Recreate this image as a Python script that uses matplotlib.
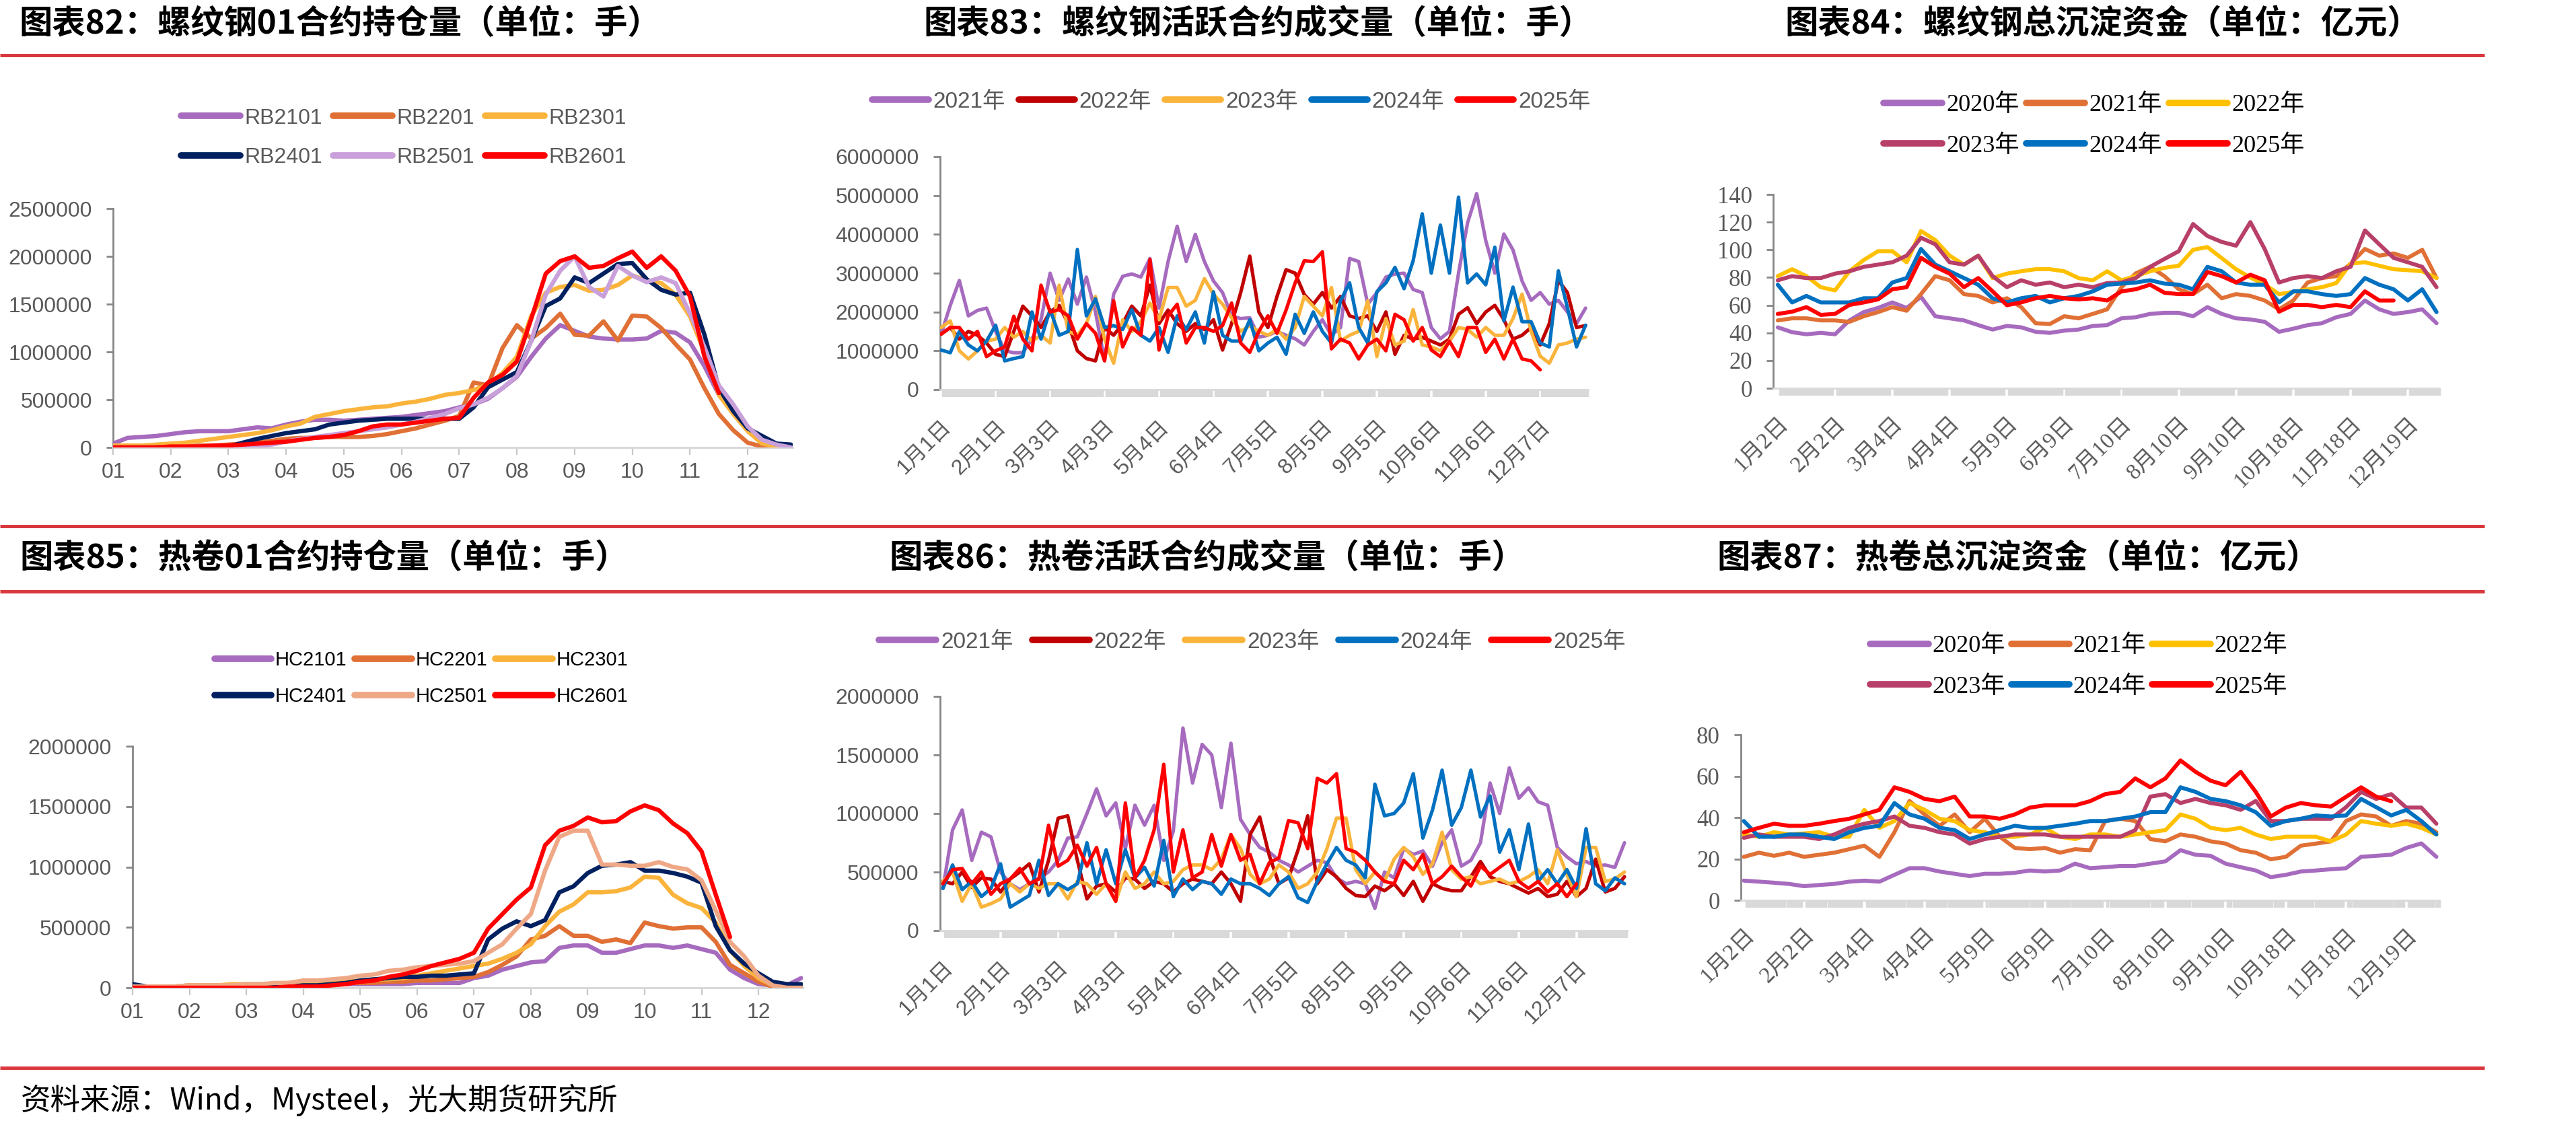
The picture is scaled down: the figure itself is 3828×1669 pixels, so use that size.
import numpy as np
import matplotlib
matplotlib.use("Agg")
import matplotlib.pyplot as plt
from matplotlib.lines import Line2D

# ---------------- data ----------------
# RB / HC 01-contract open interest, unit: 10k lots, one point per quarter month
OI_MONTHS = ["01", "02", "03", "04", "05", "06", "07", "08", "09", "10", "11", "12"]
RB_OI_NAMES = ["RB2101", "RB2201", "RB2301", "RB2401", "RB2501", "RB2601"]
RB2101 = [4, 10, 11, 12, 14, 16, 17, 17, 17, 19, 21, 20, 24, 27, 29, 29, 28, 29, 30, 31, 32, 34, 36, 38,
          42, 45, 51, 62, 74, 95, 114, 128, 122, 116, 114, 113, 113, 114, 122, 120, 110, 85, 55, 38, 20, 7, 2, 1]
RB2201 = [0, 0, 0, 1, 1, 1, 2, 2, 3, 4, 5, 7, 9, 10, 10, 11, 11, 11, 12, 14, 17, 20, 24, 28,
          33, 68, 65, 104, 128, 114, 125, 140, 118, 117, 132, 112, 138, 137, 125, 108, 92, 62, 35, 18, 5, 1, 0, 0]
RB2301 = [2, 2, 2, 3, 4, 5, 7, 9, 11, 13, 15, 18, 22, 25, 32, 35, 38, 40, 42, 43, 46, 48, 51, 55,
          57, 60, 66, 78, 95, 138, 162, 168, 170, 164, 165, 170, 180, 175, 172, 160, 137, 100, 55, 35, 17, 4, 1, 0]
RB2401 = [0, 0, 0, 0, 0, 0, 0, 0, 1, 5, 9, 12, 15, 17, 19, 24, 26, 28, 29, 30, 30, 30, 30, 30,
          30, 42, 63, 71, 79, 112, 148, 156, 178, 172, 182, 192, 193, 176, 165, 160, 162, 118, 62, 38, 20, 12, 4, 3]
RB2501 = [0, 0, 0, 0, 0, 0, 0, 0, 0, 0, 1, 3, 6, 9, 11, 13, 15, 17, 19, 21, 24, 27, 31, 35,
          41, 45, 52, 62, 75, 112, 160, 185, 200, 168, 158, 190, 180, 173, 178, 172, 140, 105, 65, 45, 22, 8, 3, 0]
RB2601 = [0, 0, 0, 0, 1, 1, 1, 2, 2, 3, 4, 5, 6, 8, 10, 11, 13, 17, 22, 24, 24, 26, 28, 30,
          31, 52, 68, 76, 90, 135, 182, 195, 200, 188, 190, 198, 205, 188, 200, 185, 158, 95, 57]

HC_OI_NAMES = ["HC2101", "HC2201", "HC2301", "HC2401", "HC2501", "HC2601"]
HC2101 = [1, 1, 1, 1, 2, 2, 2, 2, 2, 2, 2, 2, 3, 3, 3, 3, 3, 3, 3, 3, 4, 4, 4, 4,
          8, 10, 15, 18, 21, 22, 33, 35, 35, 29, 29, 32, 35, 35, 33, 35, 32, 29, 15, 8, 3, 2, 2, 8]
HC2201 = [0, 0, 1, 1, 1, 1, 1, 2, 2, 2, 2, 3, 3, 3, 3, 4, 4, 4, 5, 5, 6, 6, 7, 8,
          9, 13, 19, 26, 40, 43, 51, 43, 43, 38, 40, 37, 54, 51, 49, 50, 50, 38, 19, 12, 5, 1, 0, 0]
HC2301 = [1, 1, 1, 1, 2, 2, 2, 3, 3, 3, 3, 4, 4, 4, 5, 5, 6, 7, 7, 8, 10, 12, 14, 16,
          18, 20, 24, 29, 36, 51, 63, 69, 79, 79, 80, 83, 92, 91, 77, 70, 66, 54, 31, 18, 8, 2, 0, 0]
HC2401 = [3, 1, 1, 1, 1, 1, 1, 1, 1, 1, 1, 1, 2, 2, 3, 4, 6, 7, 8, 9, 9, 10, 10, 11,
          12, 40, 49, 55, 51, 56, 79, 84, 95, 101, 102, 104, 97, 97, 95, 92, 87, 51, 31, 20, 12, 5, 3, 3]
HC2501 = [1, 1, 1, 1, 2, 2, 2, 2, 3, 3, 4, 4, 6, 6, 7, 8, 10, 11, 14, 15, 17, 18, 19, 20,
          22, 29, 36, 49, 61, 97, 125, 130, 130, 102, 102, 101, 101, 104, 100, 98, 89, 64, 38, 26, 10, 2, 0, 0]
HC2601 = [0, 0, 0, 0, 0, 0, 0, 0, 0, 0, 0, 1, 1, 1, 2, 3, 5, 6, 9, 11, 14, 18, 21, 24,
          29, 49, 61, 73, 83, 118, 130, 134, 141, 137, 138, 146, 151, 147, 136, 128, 113, 77, 42]

# active contract volume, unit: 10k lots, one point per sixth of a month
VOL_YEARS = ["2021年", "2022年", "2023年", "2024年", "2025年"]
VOL_DATES = ["1月1日", "2月1日", "3月3日", "4月3日", "5月4日", "6月4日",
             "7月5日", "8月5日", "9月5日", "10月6日", "11月6日", "12月7日"]
RB_V21 = [143, 217, 281, 190, 204, 210, 150, 100, 95, 95, 130, 180, 300, 230, 285, 220, 290, 200, 75, 246,
          292, 298, 290, 338, 210, 330, 421, 330, 400, 330, 280, 250, 190, 183, 185, 135, 140, 150, 140, 131,
          115, 150, 180, 140, 160, 338, 330, 220, 250, 290, 298, 300, 258, 250, 160, 131, 150, 300, 430, 505,
          384, 300, 401, 360, 280, 230, 250, 220, 230, 200, 170, 210]
RB_V22 = [143, 160, 130, 150, 140, 120, 91, 85, 150, 215, 190, 160, 200, 217, 170, 100, 80, 74, 160, 140,
          170, 215, 190, 269, 170, 205, 170, 150, 170, 155, 180, 102, 170, 250, 344, 200, 160, 240, 309, 300,
          245, 220, 250, 210, 240, 190, 183, 190, 150, 200, 91, 140, 130, 135, 125, 115, 130, 194, 211, 170,
          200, 217, 180, 130, 140, 160, 115, 170, 281, 250, 160, 165]
RB_V23 = [160, 177, 100, 79, 100, 125, 130, 160, 135, 150, 125, 140, 120, 269, 150, 140, 170, 240, 130, 68,
          180, 150, 175, 223, 180, 263, 263, 215, 230, 286, 246, 220, 185, 150, 165, 150, 140, 155, 130, 160,
          240, 215, 190, 263, 125, 140, 150, 229, 85, 183, 115, 125, 206, 115, 110, 100, 125, 160, 155, 135,
          160, 140, 140, 183, 246, 150, 86, 68, 115, 120, 130, 135]
RB_V24 = [102, 95, 150, 115, 100, 125, 166, 74, 80, 85, 200, 130, 206, 140, 150, 361, 190, 234, 160, 165,
          155, 206, 140, 125, 160, 96, 190, 155, 200, 120, 252, 140, 125, 125, 180, 100, 120, 135, 91, 194,
          145, 200, 150, 120, 229, 275, 160, 120, 252, 275, 315, 260, 332, 453, 300, 424, 300, 496, 275, 298,
          270, 367, 177, 264, 175, 175, 120, 110, 306, 211, 110, 166]
RB_V25 = [143, 160, 160, 130, 150, 85, 100, 110, 189, 130, 100, 269, 200, 206, 190, 130, 170, 145, 74, 229,
          110, 160, 140, 335, 102, 190, 220, 120, 160, 160, 150, 165, 223, 120, 96, 150, 190, 145, 205, 275,
          332, 330, 355, 105, 130, 120, 79, 115, 130, 100, 194, 180, 125, 160, 102, 85, 125, 85, 160, 160,
          96, 130, 79, 130, 79, 74, 51]

HC_V21 = [36, 86, 103, 60, 84, 80, 50, 40, 35, 40, 45, 50, 60, 79, 80, 100, 121, 98, 109, 70,
          107, 90, 107, 60, 85, 173, 126, 159, 150, 105, 160, 95, 82, 71, 67, 60, 56, 50, 55, 60,
          58, 45, 40, 42, 40, 19, 50, 45, 70, 65, 68, 55, 75, 86, 55, 60, 75, 126, 100, 139,
          113, 122, 110, 107, 71, 63, 57, 59, 55, 56, 54, 75]
HC_V22 = [42, 40, 50, 37, 45, 44, 33, 44, 50, 57, 33, 60, 96, 98, 60, 27, 38, 40, 33, 45,
          44, 36, 42, 40, 33, 40, 44, 42, 40, 50, 40, 25, 82, 97, 64, 40, 45, 69, 98, 40,
          52, 46, 36, 30, 29, 38, 34, 40, 30, 42, 25, 40, 36, 34, 34, 46, 59, 46, 42, 40,
          36, 32, 36, 29, 31, 42, 29, 36, 61, 33, 36, 46]
HC_V23 = [42, 50, 25, 40, 20, 23, 27, 40, 33, 40, 36, 40, 40, 27, 42, 40, 31, 40, 25, 50,
          36, 40, 50, 40, 42, 52, 56, 56, 52, 61, 82, 70, 48, 40, 44, 56, 50, 36, 40, 50,
          70, 96, 96, 52, 40, 50, 42, 61, 71, 63, 48, 57, 84, 52, 44, 46, 40, 42, 44, 40,
          42, 46, 52, 40, 69, 48, 29, 71, 71, 42, 44, 50]
HC_V24 = [36, 56, 35, 42, 29, 36, 57, 20, 25, 30, 60, 30, 40, 35, 40, 75, 40, 69, 40, 69,
          45, 54, 38, 77, 29, 44, 35, 42, 40, 31, 44, 40, 40, 36, 30, 40, 46, 28, 24, 42,
          57, 71, 60, 56, 45, 125, 98, 100, 109, 134, 79, 103, 137, 90, 105, 137, 97, 115, 67, 86,
          52, 91, 42, 52, 40, 52, 36, 87, 40, 34, 45, 40]
HC_V25 = [40, 52, 53, 40, 50, 31, 40, 44, 53, 40, 44, 90, 55, 60, 73, 55, 71, 40, 25, 109,
          45, 60, 86, 142, 50, 86, 45, 50, 82, 55, 82, 60, 65, 40, 58, 62, 94, 92, 70, 130,
          126, 134, 70, 67, 60, 50, 42, 40, 60, 52, 65, 40, 46, 55, 46, 38, 55, 48, 54, 60,
          42, 36, 42, 33, 40, 29, 40]

# total settled capital, unit: 100m yuan, one point per quarter month
CAP_YEARS = ["2020年", "2021年", "2022年", "2023年", "2024年", "2025年"]
CAP_DATES = ["1月2日", "2月2日", "3月4日", "4月4日", "5月9日", "6月9日",
             "7月10日", "8月10日", "9月10日", "10月18日", "11月18日", "12月19日"]
RB_C20 = [44, 40.5, 39, 40, 39, 49, 55, 58, 62, 58, 66, 52, 50.5, 49, 45.6, 42.4, 45, 44, 40.8, 40,
          41.6, 42.4, 45, 45.6, 50.5, 51.3, 53.7, 54.5, 54.5, 52, 58.6, 53.7, 50.5, 49.7, 48, 40.8, 43, 45.6,
          47, 51.3, 53.7, 63.4, 57, 53.7, 55, 57, 47]
RB_C21 = [49, 50.5, 50.5, 49, 49, 48, 52, 55, 58.6, 56, 68, 81, 78, 68, 66.7, 62, 65, 58.6, 47, 46.4,
          52, 50.5, 53.7, 57, 73, 83, 87.7, 81, 71.5, 68, 74.8, 65, 68, 66.7, 63.4, 57, 63.4, 76.4,
          79.6, 81, 90, 100.6, 95.8, 97.4, 94.2, 100, 79.6]
RB_C22 = [81, 86, 81, 73, 70.7, 84.5, 92.6, 99, 99, 91, 113.6, 107, 95.8, 89.3, 95.8, 79.6, 82.8, 84.5, 86, 86,
          84.5, 79.6, 78, 84.5, 78, 81, 84.5, 87, 88.5, 100, 102, 94, 86, 80, 75, 68, 69.6, 71.5,
          73, 76, 90, 91, 88.5, 86, 85.3, 84.5, 79.6]
RB_C23 = [78, 81, 79.6, 79.6, 82.8, 84.5, 87.7, 89.3, 91, 95.8, 108.7, 104, 91, 89.3, 95.8, 81, 73, 78, 74.8, 76.4,
          73, 74.8, 73, 76, 76.4, 79.6, 87.7, 93.4, 99, 118.6, 110, 105.7, 103, 120, 100.6, 76.4, 79.6, 81,
          79.6, 84.5, 87.7, 114, 104, 94.2, 91, 87.7, 73]
RB_C24 = [74.8, 62, 66.7, 62, 62, 62, 65, 65, 76.4, 79.6, 100.6, 89.3, 84.5, 79.6, 74.8, 65, 62, 65, 66.7, 62,
          65, 66.7, 70, 74.8, 75.6, 76.4, 78, 75.6, 74.8, 71.5, 87.7, 84.5, 76.4, 74.8, 74.8, 62, 70, 70,
          68, 66.7, 68, 79.6, 74.8, 71.5, 63.4, 71.5, 55]
RB_C25 = [53.7, 55.3, 58.6, 53, 53.7, 60.2, 62, 64.2, 71.5, 73, 94.2, 87.7, 82.8, 73, 79.6, 70, 60, 62, 65, 66.7,
          65, 64.2, 65, 63.4, 70, 71.5, 74.8, 69, 68, 68, 84, 81, 76.4, 82, 78, 55.3, 60.2, 60.2,
          58.6, 60.2, 58.6, 70, 63.4, 63.4]

HC_C20 = [9.5, 9, 8.5, 7.9, 6.8, 7.4, 7.9, 9, 9.5, 9, 12.3, 15.5, 15.5, 13.9, 12.8, 11.7, 12.8, 12.8, 13.3, 14.4,
          13.9, 14.4, 17.7, 15.5, 16, 16.6, 16.6, 17.7, 18.8, 24.2, 22, 21.5, 17.7, 16, 14.4, 11.2, 12.3, 13.9,
          14.4, 15, 15.5, 21, 21.5, 22, 25.3, 27.5, 21]
HC_C21 = [21, 23, 21.5, 23, 21, 22, 23, 24.7, 26.4, 21, 32.9, 48, 41.5, 36, 41.5, 32.9, 39.4, 30.7, 25.3, 24.7,
          25.3, 23, 24.7, 24.2, 38.3, 39.4, 38.3, 29.6, 28.5, 31.8, 30.7, 28.5, 27.4, 24.2, 23, 19.8, 21, 26.4,
          27.4, 28.5, 38.3, 41.5, 40.5, 36, 38.3, 37, 32.9]
HC_C22 = [31.8, 30.7, 32.9, 31.8, 32.3, 32.9, 30.7, 30.7, 43.7, 35, 38.3, 47, 43.7, 39.4, 38.3, 33.9, 32.9, 30.7,
          30.7, 31.8, 35, 30.7, 29.6, 31.8, 31.8, 30.7, 31.8, 32.9, 33.9, 41.5, 39.4, 35, 33.9, 35, 31.8, 29.6,
          30.7, 30.7, 30.7, 28.5, 31.8, 38.3, 37, 36, 37, 35, 31.8]
HC_C23 = [30.2, 31.8, 30.7, 30.7, 30.7, 29.6, 31.8, 35, 37, 38.3, 40.5, 36, 35, 32.9, 31.8, 27.4, 29.6, 30.7,
          31.8, 31.8, 31.8, 30.7, 30.7, 30.7, 30.7, 30.7, 33.9, 50.1, 51.3, 47, 49, 47, 45.9, 43.7, 48, 38.3,
          38.3, 39.4, 39.4, 39.4, 45, 52.4, 49, 51.3, 44.8, 44.8, 37]
HC_C24 = [38.3, 30.7, 30.7, 31.8, 31.8, 30.7, 29.6, 32.9, 35, 36, 47, 41.5, 39.4, 35, 33.9, 29.6, 31.8, 33.9,
          36, 35, 35, 36, 37, 38.3, 38.3, 39.4, 40.5, 42.6, 42.6, 54.6, 52.4, 49, 47.9, 45.9, 42.6, 36,
          38.3, 39.4, 41, 40.5, 41, 49, 45, 41, 43.7, 38.3, 31.8]
HC_C25 = [32.9, 35, 37, 36, 36, 37, 38.3, 39.4, 41.5, 43.7, 54.6, 52.4, 49, 47.9, 50.1, 40.5, 40.5, 39.4, 41.5,
          44.8, 45.9, 45.9, 45.9, 47.9, 51.3, 52.4, 58.9, 54.6, 58.9, 67.6, 62.1, 57.8, 55.6, 62.1, 52.4, 40.5,
          44.8, 47, 45.9, 45.3, 50, 54.6, 50.1, 47.9]

# ---------------- styling ----------------
W, H, DPI = 3828, 1669, 100
SANS = ["Liberation Sans", "Noto Sans CJK SC", "DejaVu Sans"]
SERIF = ["Liberation Serif", "Noto Sans CJK SC", "DejaVu Sans"]
CJK = ["Noto Sans CJK SC", "DejaVu Sans"]
plt.rcParams["font.family"] = SANS

GREY = "#595959"
AXIS_GREY = "#868686"
BAND = "#D9D9D9"
RULE = "#D9383E"

PURPLE, ORANGE, AMBER, NAVY = "#A66BBE", "#E07035", "#FAB43C", "#002060"
LILAC, SALMON, RED, DARKRED = "#C9A0D9", "#EFA886", "#FF0000", "#C00000"
BLUE, GOLD, MAROON = "#0070C0", "#FFC000", "#B83F69"

fig = plt.figure(figsize=(W / DPI, H / DPI), dpi=DPI)


def px_axes(left, top, right, bottom):
    return fig.add_axes([left / W, 1 - bottom / H, (right - left) / W, (bottom - top) / H])


def fx(x):
    return x / W


def fy(y):
    return 1 - y / H


def style_y(ax, ticks, fam, size):
    for s in ("top", "right"):
        ax.spines[s].set_visible(False)
    ax.spines["left"].set_color(AXIS_GREY)
    ax.spines["left"].set_linewidth(2)
    ax.set_yticks(ticks)
    ax.set_yticklabels([str(int(t)) for t in ticks], fontfamily=fam, fontsize=size, color=GREY)
    ax.tick_params(axis="y", length=7.5, width=2, color=AXIS_GREY, pad=15)
    ax.set_facecolor("none")


def style_month_x(ax):
    ax.spines["bottom"].set_color(BAND)
    ax.spines["bottom"].set_linewidth(2.2)
    ax.set_xticks(range(12))
    ax.set_xticklabels(OI_MONTHS, fontfamily=SANS, fontsize=23, color=GREY)
    ax.tick_params(axis="x", length=8, width=1.6, color="#C8C8C8", pad=8)


def style_band_x(ax, labels, fam, size, pad, xmax):
    ax.spines["bottom"].set_color(BAND)
    ax.spines["bottom"].set_linewidth(2)
    ax.set_xticks(range(12))
    ax.set_xticklabels(labels, rotation=45, ha="right", va="top", rotation_mode="anchor",
                       fontfamily=fam, fontsize=size, color=GREY)
    ax.set_xticks(np.arange(0, xmax, 1 / 22), minor=True)
    ax.tick_params(axis="x", which="major", length=0, pad=pad)
    ax.tick_params(axis="x", which="minor", length=8, width=3.2, color=BAND)


def draw(ax, series, colors, step, scale, lw):
    for vals, c in zip(series, colors):
        v = np.asarray(vals, dtype=float) * scale
        x = np.arange(len(v)) * step
        ax.plot(x, v, color=c, lw=lw, solid_joinstyle="round", solid_capstyle="round", zorder=3)


def legend(names, colors, cx, cy, ncol, fam, size, color, hl, htp, cs, ls=0.9, reorder=False):
    handles = [Line2D([0], [0], color=c, lw=7, solid_capstyle="round") for c in colors]
    labels = list(names)
    if reorder:  # row-major order for a 2 x 3 grid
        order = [0, 3, 1, 4, 2, 5]
        handles = [handles[i] for i in order]
        labels = [labels[i] for i in order]
    fig.legend(handles, labels, loc="center", bbox_to_anchor=(fx(cx), fy(cy)), ncol=ncol,
               frameon=False, prop={"family": fam, "size": size}, labelcolor=color,
               handlelength=hl, handletextpad=htp, columnspacing=cs, labelspacing=ls,
               borderpad=0, borderaxespad=0)


# ---------------- panel 1: RB 01 open interest ----------------
ax1 = px_axes(168, 310, 1178, 665)
draw(ax1, [RB2101, RB2201, RB2301, RB2401, RB2501, RB2601],
     [PURPLE, ORANGE, AMBER, NAVY, LILAC, RED], 0.25, 1e4, 4.6)
ax1.set_xlim(0, 11.78)
ax1.set_ylim(0, 2500000)
style_y(ax1, range(0, 2500001, 500000), SANS, 23)
style_month_x(ax1)
legend(RB_OI_NAMES, [PURPLE, ORANGE, AMBER, NAVY, LILAC, RED], 600, 205, 3, SANS, 23, GREY,
       2.75, 0.2, 0.5, reorder=True)

# ---------------- panel 2: RB active volume ----------------
ax2 = px_axes(1397, 233, 2360, 579)
draw(ax2, [RB_V21, RB_V22, RB_V23, RB_V24, RB_V25], [PURPLE, DARKRED, AMBER, BLUE, RED], 1 / 6, 1e4, 3.7)
ax2.set_xlim(-0.02, 11.88)
ax2.set_ylim(0, 6000000)
style_y(ax2, range(0, 6000001, 1000000), SANS, 23)
style_band_x(ax2, VOL_DATES, SANS, 23, 29, 11.88)
legend(VOL_YEARS, [PURPLE, DARKRED, AMBER, BLUE, RED], 1830, 151, 5, SANS, 24, GREY, 2.5, 0.2, 0.6)

# ---------------- panel 3: RB total capital ----------------
ax3 = px_axes(2635, 289, 3625, 577)
draw(ax3, [RB_C20, RB_C21, RB_C22, RB_C23, RB_C24, RB_C25],
     [PURPLE, ORANGE, GOLD, MAROON, BLUE, RED], 0.25, 1, 4.3)
ax3.set_xlim(-0.08, 11.55)
ax3.set_ylim(0, 140)
style_y(ax3, range(0, 141, 20), SERIF, 25)
style_band_x(ax3, CAP_DATES, SERIF, 24, 27, 11.55)
legend(CAP_YEARS, [PURPLE, ORANGE, GOLD, MAROON, BLUE, RED], 3112, 187, 3, SERIF, 26, "black",
       2.4, 0.17, 0.3, ls=0.75, reorder=True)

# ---------------- panel 4: HC 01 open interest ----------------
ax4 = px_axes(197, 1109, 1193, 1468)
draw(ax4, [HC2101, HC2201, HC2301, HC2401, HC2501, HC2601],
     [PURPLE, ORANGE, AMBER, NAVY, SALMON, RED], 0.25, 1e4, 4.6)
ax4.set_xlim(0, 11.78)
ax4.set_ylim(0, 2000000)
style_y(ax4, range(0, 2000001, 500000), SANS, 23)
style_month_x(ax4)
legend(HC_OI_NAMES, [PURPLE, ORANGE, AMBER, NAVY, SALMON, RED], 626, 1008, 3, SANS, 21, "black",
       2.9, 0.2, 0.4, reorder=True)

# ---------------- panel 5: HC active volume ----------------
ax5 = px_axes(1397, 1035, 2418, 1383)
draw(ax5, [HC_V21, HC_V22, HC_V23, HC_V24, HC_V25], [PURPLE, DARKRED, AMBER, BLUE, RED], 1 / 6, 1e4, 3.7)
ax5.set_xlim(-0.05, 11.88)
ax5.set_ylim(0, 2000000)
style_y(ax5, range(0, 2000001, 500000), SANS, 23)
style_band_x(ax5, VOL_DATES, SANS, 23, 29, 11.88)
legend(VOL_YEARS, [PURPLE, DARKRED, AMBER, BLUE, RED], 1861, 954, 5, SANS, 24, GREY, 2.55, 0.21, 0.84)

# ---------------- panel 6: HC total capital ----------------
ax6 = px_axes(2587, 1092, 3625, 1338)
draw(ax6, [HC_C20, HC_C21, HC_C22, HC_C23, HC_C24, HC_C25],
     [PURPLE, ORANGE, GOLD, MAROON, BLUE, RED], 0.25, 1, 4.3)
ax6.set_xlim(-0.05, 11.55)
ax6.set_ylim(0, 80)
style_y(ax6, range(0, 81, 20), SERIF, 25)
style_band_x(ax6, CAP_DATES, SERIF, 24, 26, 11.55)
legend(CAP_YEARS, [PURPLE, ORANGE, GOLD, MAROON, BLUE, RED], 3089, 991, 3, SERIF, 26, "black",
       2.4, 0.15, 0.25, ls=0.75, reorder=True)

# ---------------- titles, rules, source ----------------
TITLE_KW = dict(fontfamily=CJK, fontweight="bold", fontsize=35.5, color="black", va="center")
fig.text(fx(28), fy(36), "图表82：螺纹钢01合约持仓量（单位：手）", ha="left", **TITLE_KW)
fig.text(fx(1869), fy(36), "图表83：螺纹钢活跃合约成交量（单位：手）", ha="center", **TITLE_KW)
fig.text(fx(3125), fy(36), "图表84：螺纹钢总沉淀资金（单位：亿元）", ha="center", **TITLE_KW)
fig.text(fx(29), fy(830), "图表85：热卷01合约持仓量（单位：手）", ha="left", **TITLE_KW)
fig.text(fx(1794), fy(830), "图表86：热卷活跃合约成交量（单位：手）", ha="center", **TITLE_KW)
fig.text(fx(2999), fy(830), "图表87：热卷总沉淀资金（单位：亿元）", ha="center", **TITLE_KW)

for y in (82, 782, 879, 1587):
    fig.add_artist(Line2D([0, fx(3692)], [fy(y), fy(y)], transform=fig.transFigure,
                          color=RULE, lw=3.6, solid_capstyle="butt"))

fig.text(fx(31), fy(1635), "资料来源：Wind，Mysteel，光大期货研究所", fontfamily=CJK,
         fontsize=32, color="black", ha="left", va="center")

fig.savefig("out.png", dpi=DPI)
